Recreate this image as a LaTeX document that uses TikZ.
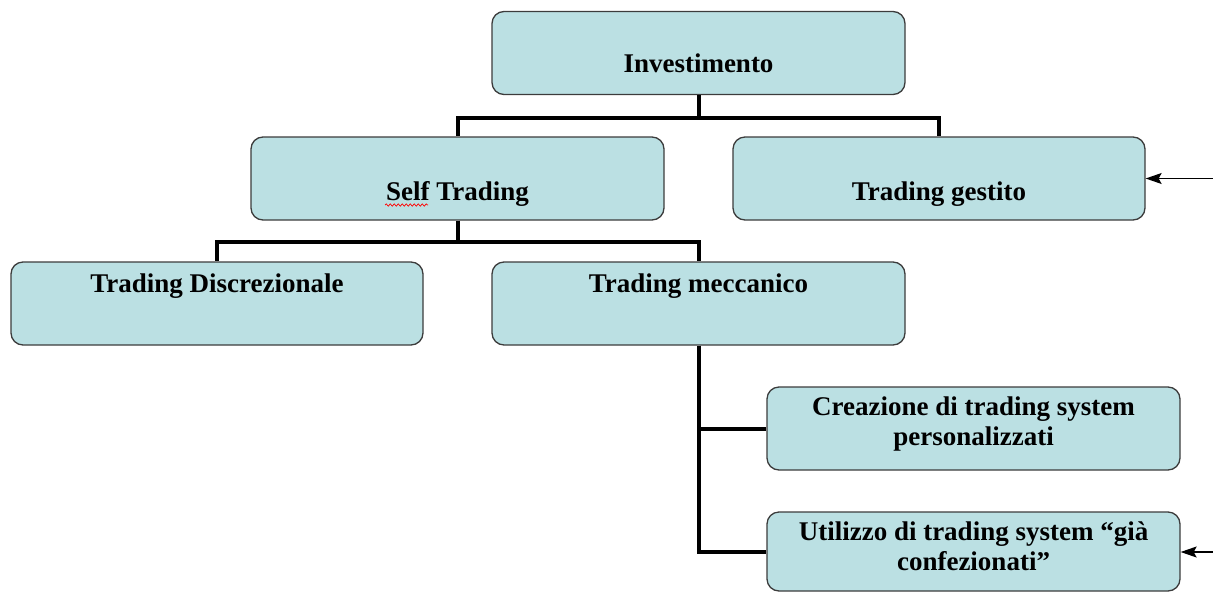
\documentclass[tikz,border=0pt]{standalone}
\usepackage{fontspec}
\setmainfont{Liberation Serif}
\usetikzlibrary{arrows.meta,decorations.pathmorphing,calc}
\definecolor{boxblue}{HTML}{BBE0E3}
\definecolor{boxline}{HTML}{3C3C3C}
\tikzset{
  box/.style={draw=boxline, line width=1.3pt, fill=boxblue, rounded corners=12pt,
    minimum width=413pt, minimum height=83pt, inner sep=0pt},
  lbl/.style={font=\bfseries\fontsize{27}{30}\selectfont, align=center, anchor=base, inner sep=0pt},
  conn/.style={line width=4pt, draw=black, line join=miter},
  arr/.style={line width=1.2pt, draw=black, -{Stealth[length=16pt,width=11pt,inset=3pt]}}
}
\begin{document}
\begin{tikzpicture}[x=1pt,y=-1pt]
\useasboundingbox (0,0) rectangle (1213,592);
% boxes
\node[box] (inv) at (698.5,53) {};
\node[box] (self) at (457.5,178.5) {};
\node[box, minimum width=412pt] (gest) at (939,178.5) {};
\node[box, minimum width=412pt] (disc) at (217,303.5) {};
\node[box] (mecc) at (698.5,303.5) {};
\node[box] (crea) at (973.5,428.5) {};
\node[box, minimum height=79pt] (util) at (973.5,551.5) {};
% labels
\node[lbl] (tinv) at (698.5,72) {Investimento};
\node[lbl] (tself) at (457.5,200) {Self Trading};
\node[lbl] (tgest) at (939,200) {Trading gestito};
\node[lbl] (tdisc) at (217,292) {Trading Discrezionale};
\node[lbl] (tmecc) at (698.5,292) {Trading meccanico};
\node[lbl] (tcrea) at (973.5,445) {Creazione di trading system\\personalizzati};
\node[lbl] (tutil) at (973.5,570) {Utilizzo di trading system ``già\\confezionati''};
% spell-check squiggle
\coordinate (sqa) at (385,205);
\coordinate (sqb) at (428,205);
\draw[red, line width=0.7pt, decorate, decoration={snake, amplitude=1.2pt, segment length=4pt}] (sqa) -- (sqb);
% connectors
\draw[conn] (inv.south) -- ++(0,23) -| (self.north);
\draw[conn] (inv.south) -- ++(0,23) -| (gest.north);
\draw[conn] (self.south) -- ++(0,21) -| (disc.north);
\draw[conn] (self.south) -- ++(0,21) -| (mecc.north);
\draw[conn] (mecc.south) |- (crea.west);
\draw[conn] (mecc.south) |- (util.west);
% incoming arrows
\coordinate (gin) at (1213,178.5);
\coordinate (uin) at (1213,552);
\draw[arr] (gin) -- (gest.east);
\draw[arr] (uin) -- (util.east |- uin);
\end{tikzpicture}
\end{document}
